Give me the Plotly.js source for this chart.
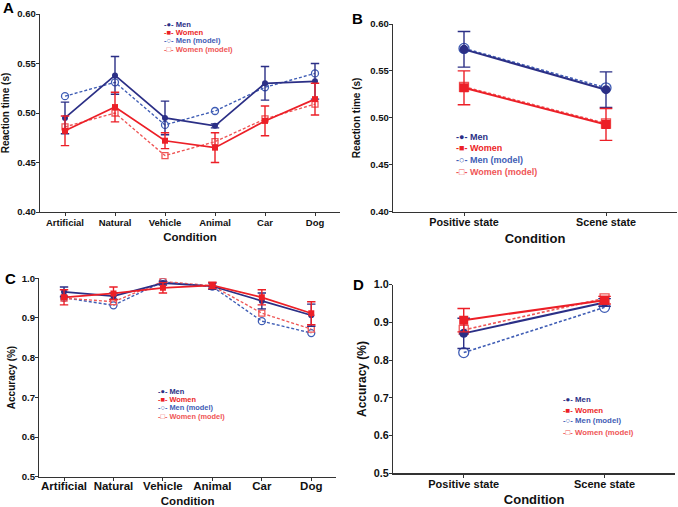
<!DOCTYPE html>
<html><head><meta charset="utf-8">
<script src="https://cdn.plot.ly/plotly-3.0.1.min.js"></script>
<style>html,body{margin:0;padding:0;background:#fff}#chart{width:678px;height:507px}</style>
</head><body><div id="chart"></div>
<script>
// ---- data ----
const catsCond = ['Artificial','Natural','Vehicle','Animal','Car','Dog'];
const catsState = ['Positive state','Scene state'];

const rtMen = [0.495,0.538,0.495,0.487,0.530,0.532];
const rtMenErr = [0.016,0.019,0.017,0.002,0.017,0.018];
const rtWomen = [0.482,0.506,0.472,0.465,0.492,0.514];
const rtWomenErr = [0.015,0.015,0.008,0.015,0.015,0.016];
const rtMenModel = [0.517,0.531,0.488,0.502,0.526,0.540];
const rtWomenModel = [0.486,0.500,0.457,0.471,0.494,0.509];

const rtStateMen = [0.573,0.530];
const rtStateMenErr = [0.019,0.019];
const rtStateWomen = [0.532,0.493];
const rtStateWomenErr = [0.018,0.017];
const rtStateMenModel = [0.574,0.532];
const rtStateWomenModel = [0.533,0.494];

const accMen = [0.966,0.955,0.988,0.980,0.943,0.907];
const accMenErr = [0.012,0.008,0.005,0.008,0.020,0.028];
const accWomen = [0.952,0.962,0.976,0.982,0.952,0.912];
const accWomenErr = [0.019,0.016,0.013,0.008,0.019,0.029];
const accMenModel = [0.951,0.932,0.991,0.979,0.892,0.862];
const accWomenModel = [0.950,0.941,0.992,0.981,0.912,0.872];

const accStateMen = [0.871,0.953];
const accStateMenErr = [0.040,0.010];
const accStateWomen = [0.906,0.959];
const accStateWomenErr = [0.031,0.010];
const accStateMenModel = [0.820,0.940];
const accStateWomenModel = [0.880,0.964];

const seriesNames = ['Men','Women','Men (model)','Women (model)'];
const panelLabels = ['A','B','C','D'];

// ---- style ----
const W = 678, H = 507;
const C_MEN = '#2b2f86', C_WOMEN = '#ec1f27', C_MENM = '#3f5db5', C_WOMENM = '#ef5656';
const FONT = 'Liberation Sans, Arial, sans-serif';
const px = x => x / W, py = y => 1 - y / H;

function panelTraces(ax, cats, men, menErr, women, womenErr, menM, womenM, ms, lw) {
  const xa = 'x' + ax, ya = 'y' + ax;
  return [
    {x: cats, y: menM, xaxis: xa, yaxis: ya, mode: 'lines+markers', name: seriesNames[2], showlegend: false,
     line: {color: C_MENM, width: lw * 0.8, dash: '3px,2px'},
     marker: {symbol: 'circle-open', size: ms + 1, color: C_MENM, line: {width: 1.3}}},
    {x: cats, y: womenM, xaxis: xa, yaxis: ya, mode: 'lines+markers', name: seriesNames[3], showlegend: false,
     line: {color: C_WOMENM, width: lw * 0.8, dash: '3px,2px'},
     marker: {symbol: 'square-open', size: ms, color: C_WOMENM, line: {width: 1.3}}},
    {x: cats, y: men, xaxis: xa, yaxis: ya, mode: 'lines+markers', name: seriesNames[0], showlegend: false,
     line: {color: C_MEN, width: lw},
     marker: {symbol: 'circle', size: ms, color: C_MEN},
     error_y: {type: 'data', array: menErr, visible: true, color: C_MEN, thickness: 1.4, width: ms * 0.7}},
    {x: cats, y: women, xaxis: xa, yaxis: ya, mode: 'lines+markers', name: seriesNames[1], showlegend: false,
     line: {color: C_WOMEN, width: lw},
     marker: {symbol: 'square', size: ms, color: C_WOMEN},
     error_y: {type: 'data', array: womenErr, visible: true, color: C_WOMEN, thickness: 1.4, width: ms * 0.7}},
  ];
}

const data = [].concat(
  panelTraces('', catsCond, rtMen, rtMenErr, rtWomen, rtWomenErr, rtMenModel, rtWomenModel, 6, 1.7),
  panelTraces('2', catsState, rtStateMen, rtStateMenErr, rtStateWomen, rtStateWomenErr, rtStateMenModel, rtStateWomenModel, 9, 2),
  panelTraces('3', catsCond, accMen, accMenErr, accWomen, accWomenErr, accMenModel, accWomenModel, 6, 1.7),
  panelTraces('4', catsState, accStateMen, accStateMenErr, accStateWomen, accStateWomenErr, accStateMenModel, accStateWomenModel, 9, 2)
);

function xAxis(anchor, dom, n, tickSize, titleSize, standoff, tls) {
  return {anchor: anchor, domain: dom, range: [-0.5, n - 0.5], type: 'category', showline: true, linecolor: '#333', linewidth: 1.3,
    ticks: 'outside', ticklen: 3, tickcolor: '#333', tickwidth: 1, showgrid: false, zeroline: false, automargin: false,
    ticklabelstandoff: tls,
    tickfont: {family: FONT, size: tickSize, color: '#111', weight: 'bold'},
    title: {text: 'Condition', standoff: standoff, font: {family: FONT, size: titleSize, color: '#111', weight: 'bold'}}};
}
function yAxis(anchor, dom, range, dtick, fmt, title, tickSize, titleSize, standoff, tls) {
  return {anchor: anchor, domain: dom, range: range, dtick: dtick, tick0: range[0], tickformat: fmt, showline: true, linecolor: '#333', linewidth: 1.3,
    ticks: 'outside', ticklen: 3, tickcolor: '#333', tickwidth: 1, showgrid: false, zeroline: false, automargin: false,
    ticklabelstandoff: tls,
    tickfont: {family: FONT, size: tickSize, color: '#111', weight: 'bold'},
    title: {text: title, standoff: standoff, font: {family: FONT, size: titleSize, color: '#111', weight: 'bold'}}};
}

const layout = {
  width: W, height: H, margin: {l: 0, r: 0, t: 0, b: 0}, paper_bgcolor: '#fff', plot_bgcolor: '#fff',
  showlegend: false, font: {family: FONT, weight: 'bold'},
  xaxis: xAxis('y', [px(40), px(340)], 6, 9.5, 11.5, 6, -2),
  yaxis: yAxis('x', [py(212), py(14)], [0.40, 0.60], 0.05, '.2f', 'Reaction time (s)', 9.5, 10, 6, -2),
  xaxis2: xAxis('y2', [px(393), px(677)], 2, 10.8, 13, 7, -3),
  yaxis2: yAxis('x2', [py(211.7), py(24)], [0.40, 0.60], 0.05, '.2f', 'Reaction time (s)', 9.5, 10, 7, -2),
  xaxis3: xAxis('y3', [px(39.3), px(336)], 6, 11.5, 11.5, 6, -5),
  yaxis3: yAxis('x3', [py(476.7), py(278.3)], [0.5, 1.0], 0.1, '.1f', 'Accuracy (%)', 9.6, 10, 4, -2),
  xaxis4: xAxis('y4', [px(393.3), px(675)], 2, 11, 13, 7, -3),
  yaxis4: yAxis('x4', [py(473.3), py(284.7)], [0.5, 1.0], 0.1, '.1f', 'Accuracy (%)', 10.8, 12, 4, -2),
  annotations: []
};

// panel letters
const labelPos = [[8.5, 8], [357, 19], [10, 278], [358.5, 284]];
panelLabels.forEach((t, i) => layout.annotations.push({text: t, x: px(labelPos[i][0]), y: py(labelPos[i][1]),
  xref: 'paper', yref: 'paper', showarrow: false, xanchor: 'center', yanchor: 'middle',
  font: {family: FONT, size: 15, color: '#000', weight: 'bold'}}));

// compact legends (drawn as text rows)
const legendGlyphs = ['-\u25CF-', '-\u25A0-', '-\u25CB-', '-\u25A1-'];
const legendColors = [C_MEN, C_WOMEN, C_MENM, C_WOMENM];
const legends = [
  {x: 163, rows: [24, 32.3, 40.7, 49], size: 7.6},
  {x: 455, rows: [136.7, 148, 160, 171.5], size: 9},
  {x: 157, rows: [391.3, 399.6, 407.9, 416.2], size: 7.4},
  {x: 562, rows: [399, 410, 420.7, 432.3], size: 7.8}
];
legends.forEach(lg => {
  seriesNames.forEach((name, i) => {
    layout.annotations.push({
      text: '<span style="color:' + legendColors[i] + '">' + legendGlyphs[i] + '</span> ' + name,
      x: px(lg.x), y: py(lg.rows[i]), xref: 'paper', yref: 'paper', showarrow: false,
      xanchor: 'left', yanchor: 'middle', align: 'left', borderpad: 0,
      font: {family: FONT, size: lg.size, color: legendColors[i], weight: 'bold'}
    });
  });
});

Plotly.newPlot('chart', data, layout, {staticPlot: true, displayModeBar: false});
</script></body></html>
